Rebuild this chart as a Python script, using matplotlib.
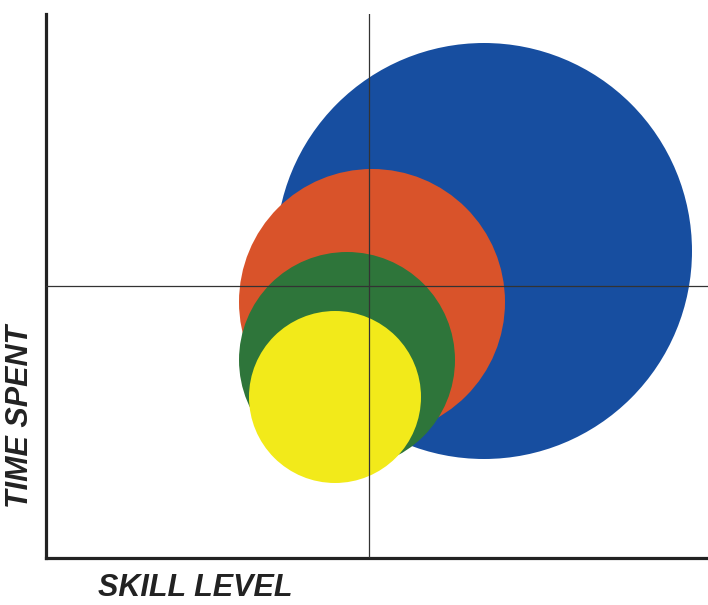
import matplotlib
matplotlib.use("Agg")
from matplotlib import pyplot as plt
from matplotlib.patches import Circle

# Bubble data (skill level, time spent, size) in axis units
names = ["blue", "orange", "green", "yellow"]
skill = [438, 326, 301, 289]
time_spent = [307, 256, 198, 161]
radius = [208, 133, 108, 86]
colors = ["#174ea0", "#d9532a", "#2e753a", "#f2ea1a"]

x_mid = 323
y_mid = 272

fig = plt.figure(figsize=(7.08, 6.05), dpi=100)
ax = fig.add_axes([46 / 708, (605 - 558) / 605, 662 / 708, 544 / 605])
ax.set_xlim(0, 662)
ax.set_ylim(0, 544)
ax.set_aspect("equal")

for x, y, r, c in zip(skill, time_spent, radius, colors):
    ax.add_patch(Circle((x, y), r, color=c, zorder=2, lw=0))

ax.axvline(x_mid, color="#333333", lw=0.9, zorder=3)
ax.axhline(y_mid, color="#333333", lw=0.9, zorder=3)

for s in ["top", "right"]:
    ax.spines[s].set_visible(False)
for s in ["left", "bottom"]:
    ax.spines[s].set_linewidth(2.3)
    ax.spines[s].set_color("#222222")
ax.set_xticks([])
ax.set_yticks([])

font = dict(family="Liberation Sans", weight="bold", style="italic",
            size=22, color="#222222")
fig.text(195 / 708, 1 - 588 / 605, "SKILL LEVEL", ha="center", va="center", **font)
fig.text(20 / 708, 1 - 416 / 605, "TIME SPENT", ha="center", va="center",
         rotation=90, **font)

fig.savefig("out.png", dpi=100)
